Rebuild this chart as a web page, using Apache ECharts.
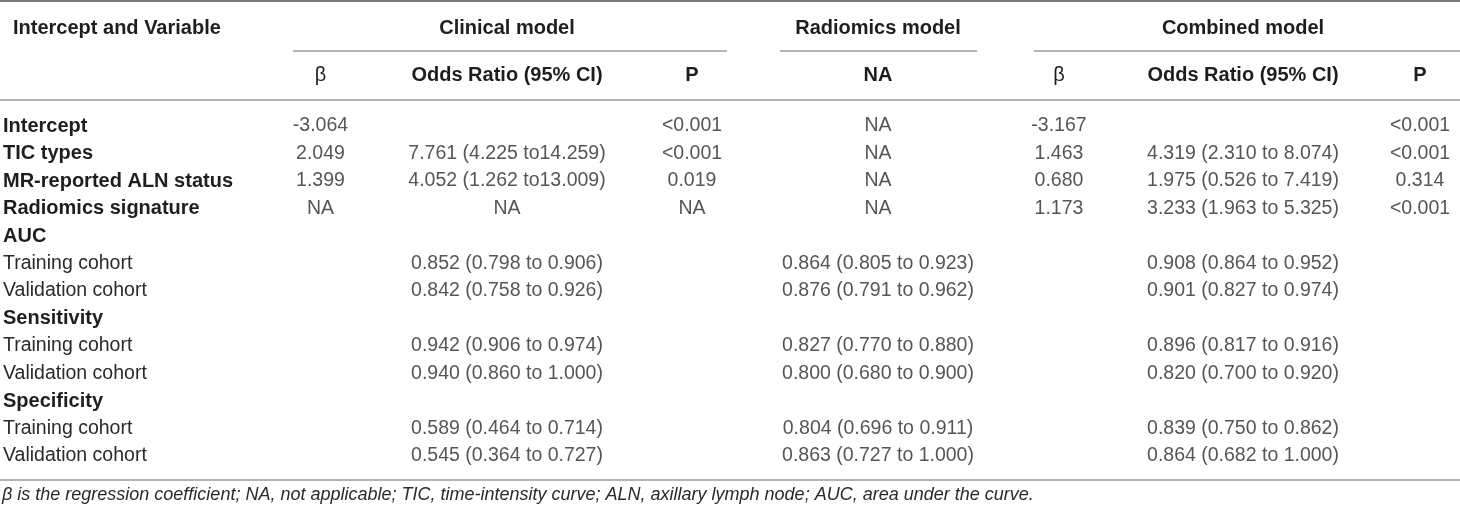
<!DOCTYPE html>
<html>
<head>
    <meta charset="utf-8">
    <title>Model comparison table</title>
    <script src="https://cdn.jsdelivr.net/npm/echarts@6/dist/echarts.min.js"></script>
    <style>
        html, body { margin: 0; padding: 0; background: #fff; }
    </style>
</head>
<body>
    <div id="div_table" style="width: 1460px; height: 511px;"></div>

    <script type="text/javascript">
        // table content
        var rowLabels = ['Intercept', 'TIC types', 'MR-reported ALN status', 'Radiomics signature', 'AUC',
            'Training cohort', 'Validation cohort', 'Sensitivity', 'Training cohort', 'Validation cohort',
            'Specificity', 'Training cohort', 'Validation cohort'];
        var sectionRows = ['Intercept', 'TIC types', 'MR-reported ALN status', 'Radiomics signature',
            'AUC', 'Sensitivity', 'Specificity'];

        var groupHeaders = ['Clinical model', 'Radiomics model', 'Combined model'];
        var subHeaders = ['β', 'Odds Ratio (95% CI)', 'P', 'NA', 'β', 'Odds Ratio (95% CI)', 'P'];

        var clinicalBeta = ['-3.064', '2.049', '1.399', 'NA', '', '', '', '', '', '', '', '', ''];
        var clinicalOR = ['', '7.761 (4.225 to14.259)', '4.052 (1.262 to13.009)', 'NA', '',
            '0.852 (0.798 to 0.906)', '0.842 (0.758 to 0.926)', '',
            '0.942 (0.906 to 0.974)', '0.940 (0.860 to 1.000)', '',
            '0.589 (0.464 to 0.714)', '0.545 (0.364 to 0.727)'];
        var clinicalP = ['<0.001', '<0.001', '0.019', 'NA', '', '', '', '', '', '', '', '', ''];
        var radiomicsNA = ['NA', 'NA', 'NA', 'NA', '',
            '0.864 (0.805 to 0.923)', '0.876 (0.791 to 0.962)', '',
            '0.827 (0.770 to 0.880)', '0.800 (0.680 to 0.900)', '',
            '0.804 (0.696 to 0.911)', '0.863 (0.727 to 1.000)'];
        var combinedBeta = ['-3.167', '1.463', '0.680', '1.173', '', '', '', '', '', '', '', '', ''];
        var combinedOR = ['', '4.319 (2.310 to 8.074)', '1.975 (0.526 to 7.419)', '3.233 (1.963 to 5.325)', '',
            '0.908 (0.864 to 0.952)', '0.901 (0.827 to 0.974)', '',
            '0.896 (0.817 to 0.916)', '0.820 (0.700 to 0.920)', '',
            '0.839 (0.750 to 0.862)', '0.864 (0.682 to 1.000)'];
        var combinedP = ['<0.001', '<0.001', '0.314', '<0.001', '', '', '', '', '', '', '', '', ''];

        var footnote = 'β is the regression coefficient; NA, not applicable; TIC, time-intensity curve; ' +
            'ALN, axillary lymph node; AUC, area under the curve.';

        var columns = [clinicalBeta, clinicalOR, clinicalP, radiomicsNA, combinedBeta, combinedOR, combinedP];
        // which column carries the group header above it
        var groupOfColumn = [-1, 0, -1, 1, -1, 2, -1];

        // layout
        var colCenters = [320, 507, 692, 878, 1059, 1243, 1430];
        var FONT = "'Liberation Sans', Arial, Helvetica, sans-serif";
        var TEXT = '#2a2a2a';
        var BOLD = '#1e1e1e';
        var RULE = '#9a9a9a';
        var gridTop = 112.25, gridBottom = 41.25, colWidth = 100;

        var grids = [], xAxes = [], yAxes = [], series = [];
        columns.forEach(function (col, i) {
            var left = colCenters[i] - colWidth / 2;
            grids.push({ left: left, width: colWidth, top: gridTop, bottom: gridBottom });

            var g = groupOfColumn[i];
            xAxes.push({
                gridIndex: i,
                type: 'category',
                position: 'top',
                data: [subHeaders[i]],
                axisLine: { show: false },
                axisTick: { show: false },
                splitLine: { show: false },
                axisLabel: {
                    margin: 27,
                    fontFamily: FONT,
                    fontSize: 20,
                    fontWeight: subHeaders[i] === 'β' ? 'normal' : 'bold',
                    color: BOLD
                },
                name: g >= 0 ? groupHeaders[g] : '',
                nameLocation: 'middle',
                nameGap: 74,
                nameTextStyle: { fontFamily: FONT, fontSize: 20, fontWeight: 'bold', color: BOLD }
            });

            yAxes.push({
                gridIndex: i,
                type: 'category',
                inverse: true,
                data: rowLabels,
                axisLine: { show: false },
                axisTick: { show: false },
                splitLine: { show: false },
                axisLabel: i === 0 ? {
                    show: true,
                    align: 'left',
                    margin: left - 2,
                    interval: 0,
                    formatter: function (value) {
                        return sectionRows.indexOf(value) >= 0 ? '{b|' + value + '}' : '{n|' + value + '}';
                    },
                    rich: {
                        b: { fontFamily: FONT, fontSize: 20, fontWeight: 'bold', color: BOLD },
                        n: { fontFamily: FONT, fontSize: 19.5, color: TEXT }
                    }
                } : { show: false }
            });

            series.push({
                type: 'scatter',
                xAxisIndex: i,
                yAxisIndex: i,
                symbolSize: 1,
                itemStyle: { color: 'rgba(0,0,0,0)' },
                silent: true,
                data: col.map(function (txt, r) { return { name: txt, value: [0, r] }; }),
                label: {
                    show: true,
                    position: 'inside',
                    formatter: '{b}',
                    fontFamily: FONT,
                    fontSize: 19.5,
                    color: TEXT
                }
            });
        });

        function rule(x1, x2, y, w, c) {
            return {
                type: 'line',
                shape: { x1: x1, y1: y, x2: x2, y2: y },
                style: { stroke: c || RULE, lineWidth: w || 1.5 },
                silent: true
            };
        }

        var myChart = echarts.init(document.getElementById('div_table'), null, { renderer: 'canvas' });
        myChart.setOption({
            animation: false,
            backgroundColor: '#fff',
            title: [
                {
                    text: 'Intercept and Variable',
                    left: 13,
                    top: 18,
                    padding: 0,
                    textStyle: { fontFamily: FONT, fontSize: 20, fontWeight: 'bold', color: BOLD }
                },
                {
                    text: footnote,
                    left: 2,
                    top: 486,
                    padding: 0,
                    textStyle: { fontFamily: FONT, fontSize: 18, fontStyle: 'italic', fontWeight: 'normal', color: TEXT }
                }
            ],
            grid: grids,
            xAxis: xAxes,
            yAxis: yAxes,
            series: series,
            graphic: [
                rule(0, 1460, 1, 2, '#7a7a7a'),
                rule(293, 727, 51),
                rule(780, 977, 51),
                rule(1034, 1460, 51),
                rule(0, 1460, 100),
                rule(0, 1460, 480)
            ]
        });
    </script>
</body>
</html>
